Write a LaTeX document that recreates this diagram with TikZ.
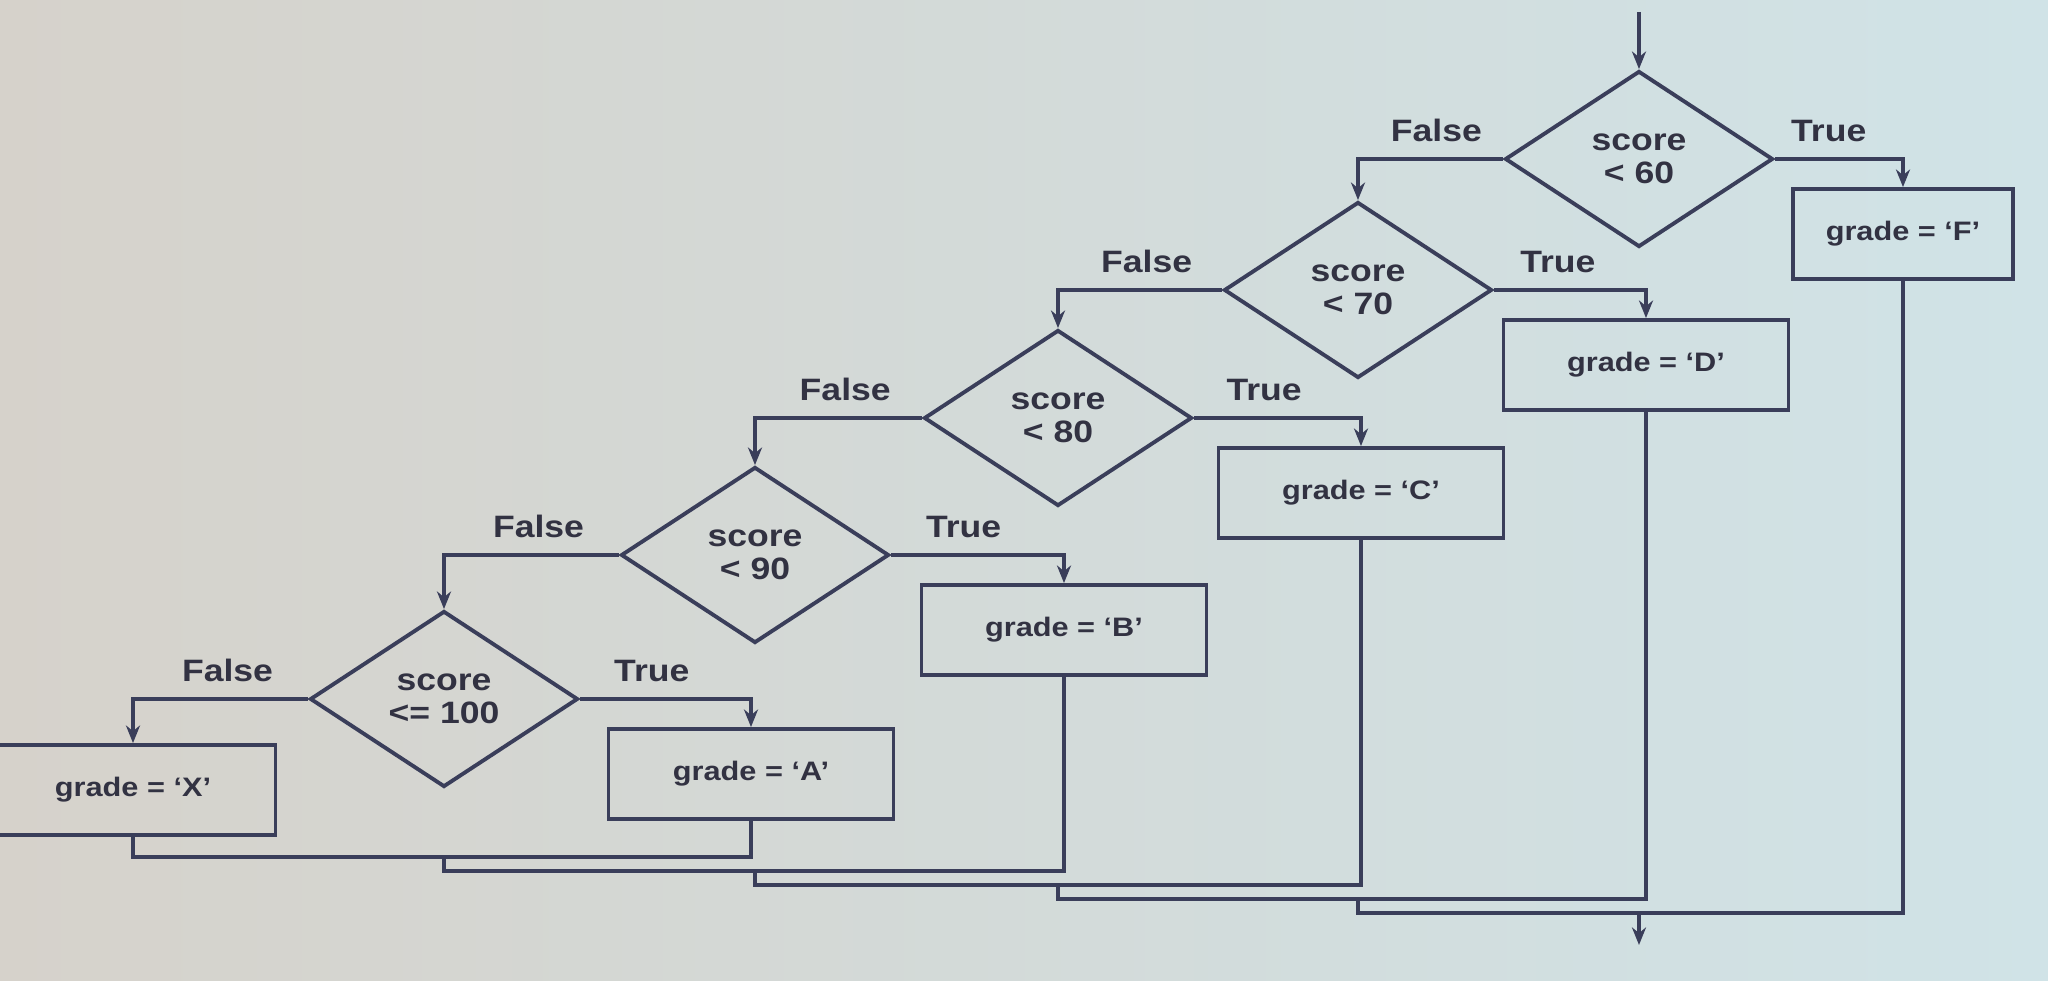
\documentclass[tikz,border=0pt]{standalone}
\usepackage{fontspec}
\setmainfont[FakeStretch=1.15]{Liberation Sans}
\usetikzlibrary{shapes.geometric,arrows.meta}
\definecolor{ink}{RGB}{58,62,90}
\definecolor{txt}{RGB}{50,50,66}
\definecolor{paperL}{RGB}{214,210,203}
\definecolor{paperR}{RGB}{208,227,231}
\begin{document}
\begin{tikzpicture}[>={Stealth[length=5pt,width=4pt]}, ink, line width=1.1pt,
    test/.style={diamond, draw, aspect=1.52, minimum width=2.68cm, minimum height=1.76cm,
      inner sep=0pt, align=center, text=txt, font=\fontsize{8.8}{9.3}\selectfont\bfseries},
    grade/.style={rectangle, draw, minimum width=2.85cm, minimum height=0.9cm,
      text=txt, font=\fontsize{7.6}{9}\selectfont\bfseries},
    lbl/.style={above=1pt, text=txt, font=\fontsize{8.8}{10}\selectfont\bfseries}]
    \useasboundingbox (0, 0) rectangle (20.48, 9.81);
    \clip (0, 0) rectangle (20.48, 9.81);
    \shade[left color=paperL, right color=paperR] (0, 0) rectangle (20.48, 9.81);
    % tests, from the top right down to the left
    \node[test] (t60) at (16.39, 8.22) {score\\< 60};
    \node[test] (t70) at (13.58, 6.91) {score\\< 70};
    \node[test] (t80) at (10.58, 5.63) {score\\< 80};
    \node[test] (t90) at (7.55, 4.26) {score\\< 90};
    \node[test] (t100) at (4.44, 2.82) {score\\<= 100};
    % results
    \node[grade, minimum width=2.2cm] (gF) at (19.03, 7.47) {grade = `F'};
    \node[grade] (gD) at (16.46, 6.16) {grade = `D'};
    \node[grade] (gC) at (13.61, 4.88) {grade = `C'};
    \node[grade] (gB) at (10.64, 3.51) {grade = `B'};
    \node[grade] (gA) at (7.51, 2.07) {grade = `A'};
    \node[grade] (gX) at (1.33, 1.91) {grade = `X'};
    \coordinate (in) at (16.39, 9.69);
    \draw[->] (in) -- (t60.north);
    \draw[->] (t60.west) -| node[lbl, pos=0.23] (f60) {False} (t70.north);
    \draw[->] (t60.east) -| node[lbl, pos=0.21] (r60) {True} (gF.north);
    \draw[->] (t70.west) -| node[lbl, pos=0.23] (f70) {False} (t80.north);
    \draw[->] (t70.east) -| node[lbl, pos=0.21] (r70) {True} (gD.north);
    \draw[->] (t80.west) -| node[lbl, pos=0.23] (f80) {False} (t90.north);
    \draw[->] (t80.east) -| node[lbl, pos=0.21] (r80) {True} (gC.north);
    \draw[->] (t90.west) -| node[lbl, pos=0.23] (f90) {False} (t100.north);
    \draw[->] (t90.east) -| node[lbl, pos=0.21] (r90) {True} (gB.north);
    \draw[->] (t100.west) -| node[lbl, pos=0.23] (f100) {False} (gX.north);
    \draw[->] (t100.east) -| node[lbl, pos=0.21] (r100) {True} (gA.north);
    % joins under the boxes
    \coordinate (m1) at (4.44, 1.24);
    \coordinate (m2) at (7.55, 1.10);
    \coordinate (m3) at (10.58, 0.96);
    \coordinate (m4) at (13.58, 0.82);
    \coordinate (m5) at (16.39, 0.68);
    \coordinate (out) at (16.39, 0.36);
    \draw (gX.south) |- (m1) -| (gA.south);
    \draw (m1) |- (m2) -| (gB.south);
    \draw (m2) |- (m3) -| (gC.south);
    \draw (m3) |- (m4) -| (gD.south);
    \draw (m4) |- (m5) -| (gF.south);
    \draw[->] (m5) -- (out);
  \end{tikzpicture}
\end{document}
